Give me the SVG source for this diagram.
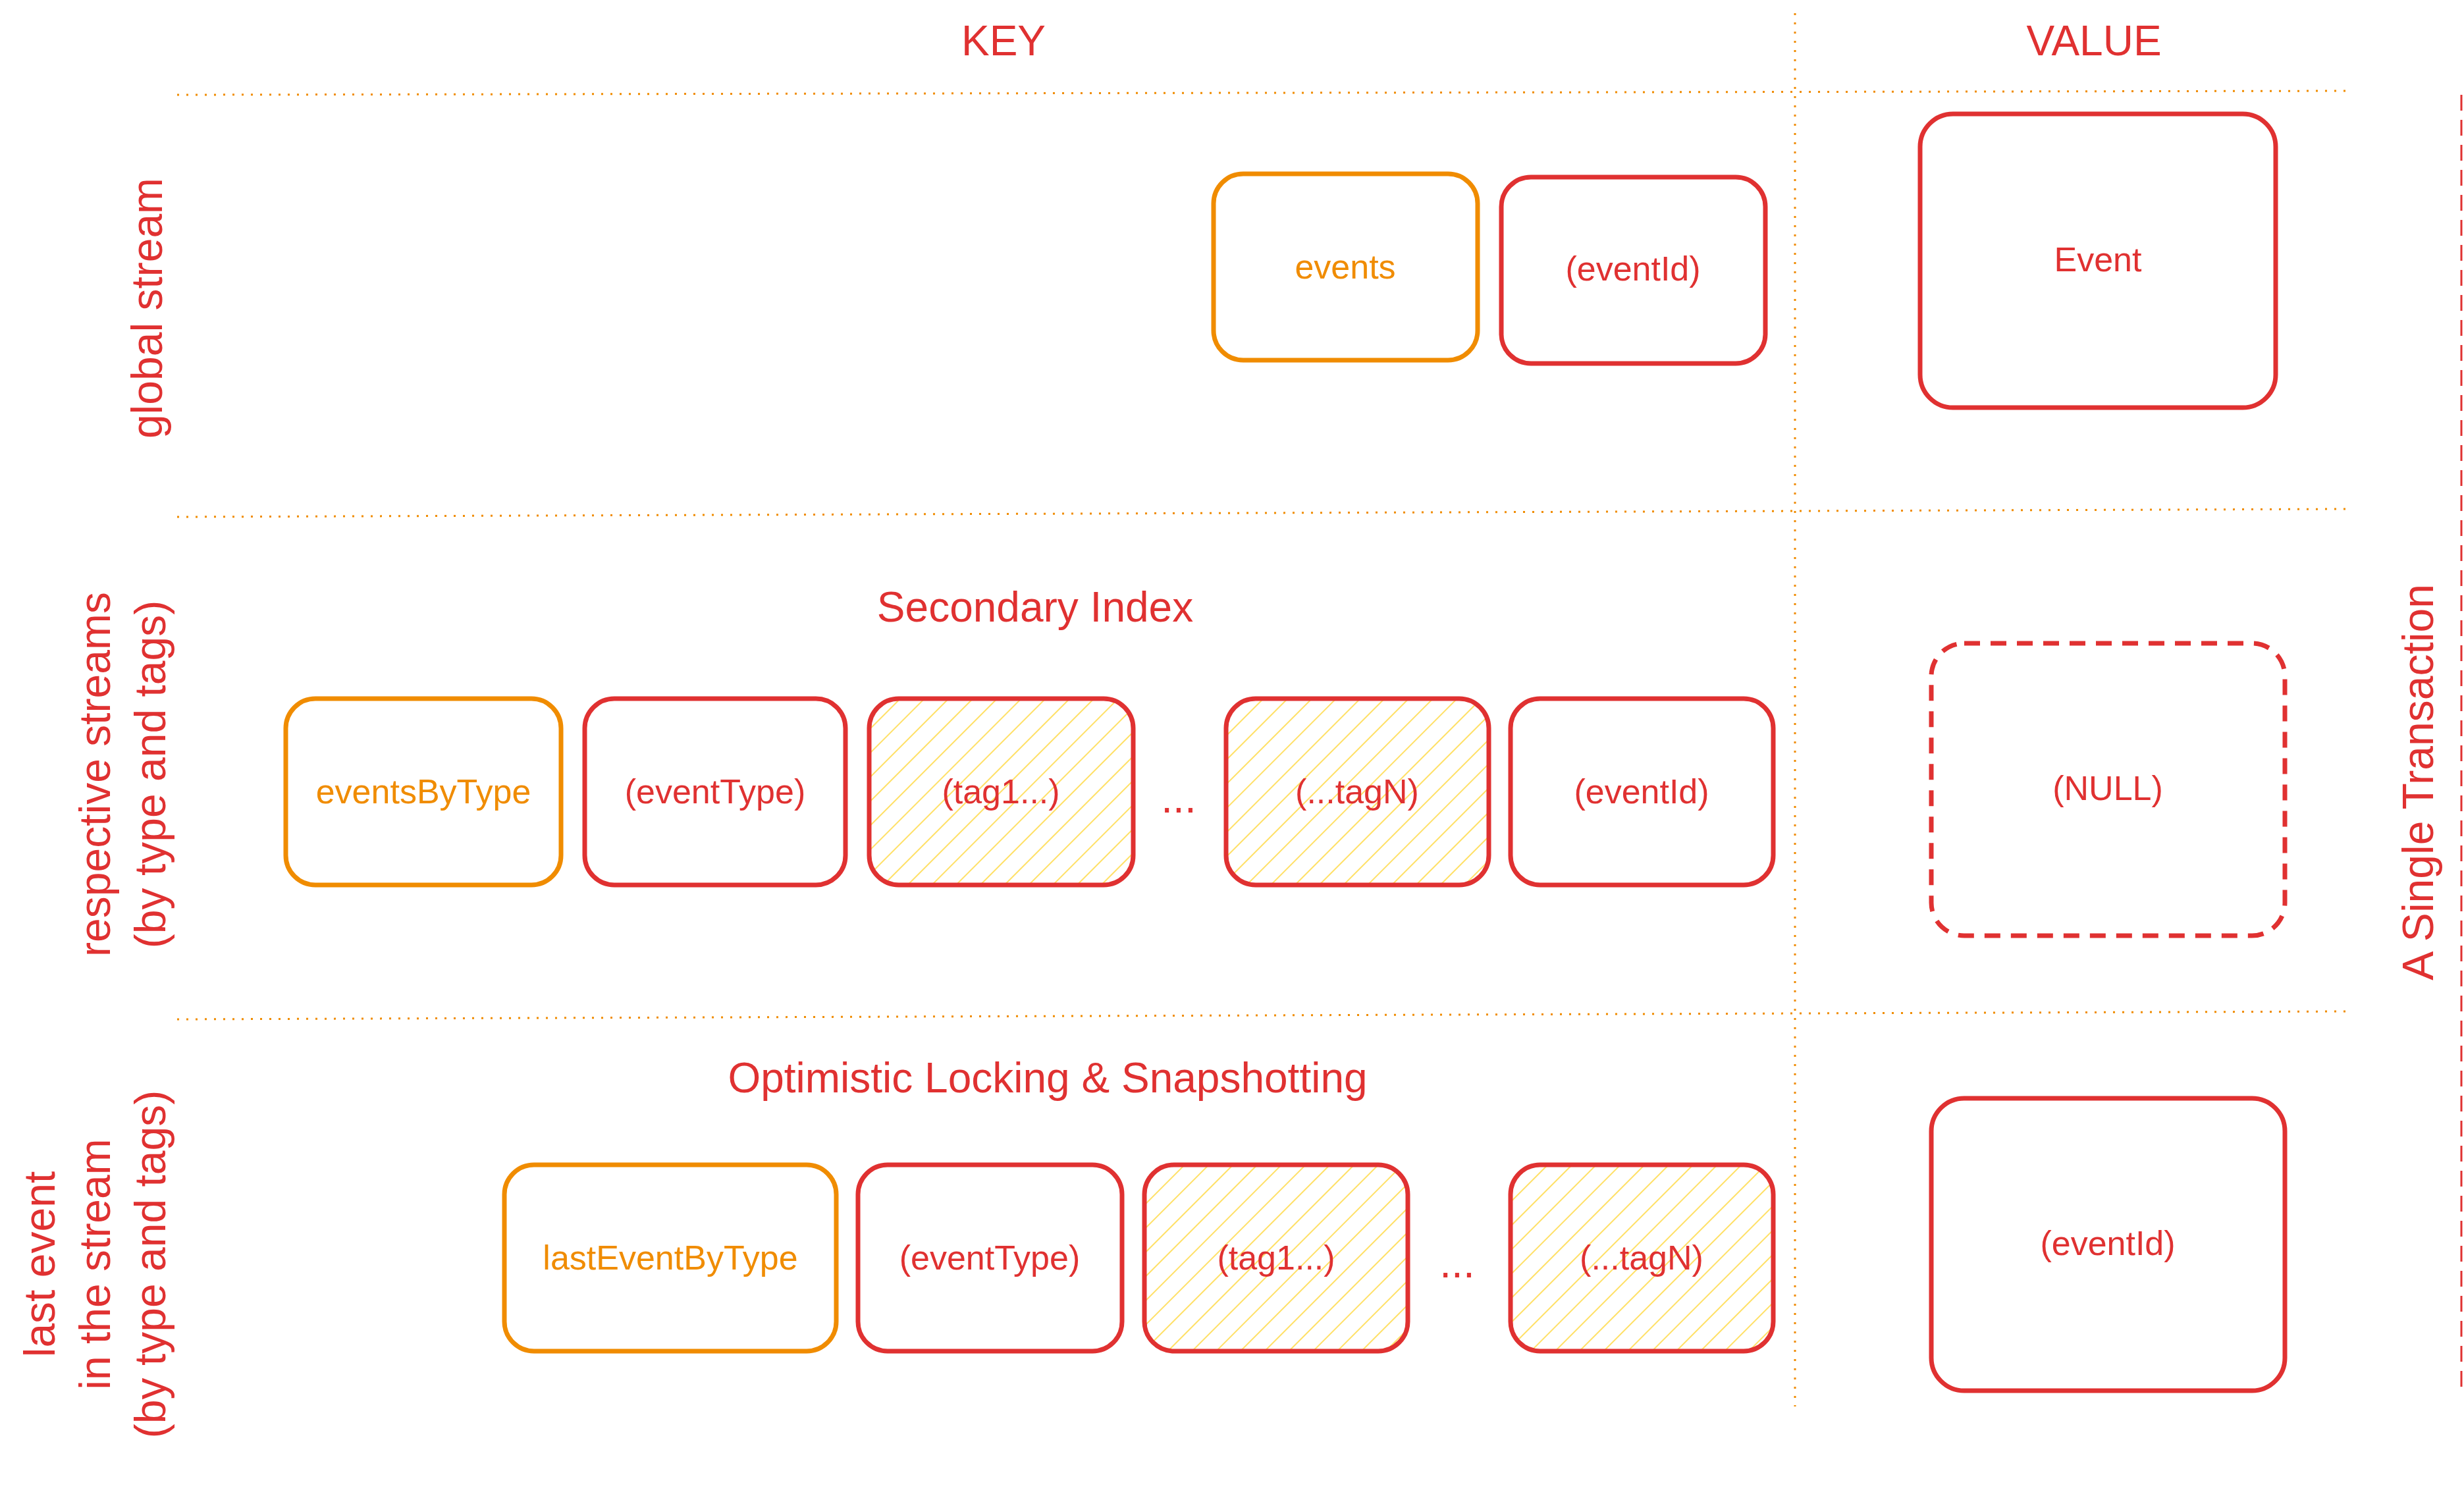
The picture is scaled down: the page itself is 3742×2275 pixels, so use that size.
<svg xmlns="http://www.w3.org/2000/svg" width="3742" height="2275" viewBox="0 0 3742 2275">
<style>
text{font-family:"Liberation Sans",Arial,sans-serif;text-anchor:middle;dominant-baseline:central}
.r{fill:#e03131}.o{fill:#f08c00}
.bx{fill:none;stroke:#e03131;stroke-width:7}
.ob{fill:none;stroke:#f08c00;stroke-width:7}
.hb{fill:url(#hatch);stroke:#e03131;stroke-width:7}
.t{font-size:52px}.h{font-size:64px}.l{font-size:66px}
.dot{stroke:#f08c00;stroke-width:3;stroke-dasharray:3 11;fill:none}
</style>
<defs>
<pattern id="hatch" patternUnits="userSpaceOnUse" width="26" height="26" patternTransform="rotate(45)">
<rect width="26" height="26" fill="#fff"/>
<line x1="0" y1="0" x2="0" y2="26" stroke="#ffe066" stroke-width="4"/>
</pattern>
</defs>
<rect width="3742" height="2275" fill="#fff"/>
<g id="grid">
<line class="dot" x1="2726" y1="20" x2="2726" y2="2136"/>
<line class="dot" x1="269" y1="144" x2="3564" y2="138"/>
<line class="dot" x1="269" y1="785" x2="3564" y2="773"/>
<line class="dot" x1="269" y1="1548" x2="3564" y2="1536"/>
<line x1="3738" y1="144" x2="3738" y2="2112" stroke="#e03131" stroke-width="3" stroke-dasharray="24 14"/>
</g>
<g id="labels">
<text class="r h" x="1524" y="62">KEY</text>
<text class="r h" x="3180" y="62">VALUE</text>
<text class="r l" transform="translate(3672,1188) rotate(-90)">A Single Transaction</text>
<text class="r l" transform="translate(223,468) rotate(-90)">global stream</text>
<text class="r l" transform="translate(144,1176) rotate(-90)">respective streams</text>
<text class="r l" transform="translate(228,1176) rotate(-90)">(by type and tags)</text>
<text class="r l" transform="translate(60,1920) rotate(-90)">last event</text>
<text class="r l" transform="translate(144,1920) rotate(-90)">in the stream</text>
<text class="r l" transform="translate(228,1920) rotate(-90)">(by type and tags)</text>
<text class="r h" x="1572" y="922">Secondary Index</text>
<text class="r h" x="1591" y="1637">Optimistic Locking &amp; Snapshotting</text>
<text class="r h" x="1790" y="1212">...</text>
<text class="r h" x="2213" y="1918">...</text>
</g>
<g id="events"><rect class="ob" x="1843" y="264" width="401" height="283" rx="45"/><text class="o t" x="2043" y="405">events</text></g>
<g id="eventId1"><rect class="bx" x="2280" y="269" width="401" height="283" rx="45"/><text class="r t" x="2480" y="408">(eventId)</text></g>
<g id="event"><rect class="bx" x="2916" y="173" width="540" height="446" rx="50"/><text class="r t" x="3186" y="394">Event</text></g>
<g id="eventsByType"><rect class="ob" x="434" y="1061" width="418" height="283" rx="45"/><text class="o t" x="643" y="1202">eventsByType</text></g>
<g id="eventType1"><rect class="bx" x="888" y="1061" width="396" height="283" rx="45"/><text class="r t" x="1086" y="1202">(eventType)</text></g>
<g id="tag1a"><rect class="hb" x="1320" y="1061" width="401" height="283" rx="45"/><text class="r t" x="1520" y="1202">(tag1...)</text></g>
<g id="tagNa"><rect class="hb" x="1862" y="1061" width="399" height="283" rx="45"/><text class="r t" x="2061" y="1202">(...tagN)</text></g>
<g id="eventId2"><rect class="bx" x="2294" y="1061" width="399" height="283" rx="45"/><text class="r t" x="2493" y="1202">(eventId)</text></g>
<g id="null"><rect class="bx" stroke-dasharray="24 16" x="2933" y="977" width="537" height="444" rx="50"/><text class="r t" x="3201" y="1197">(NULL)</text></g>
<g id="lastEventByType"><rect class="ob" x="766" y="1769" width="504" height="283" rx="45"/><text class="o t" x="1018" y="1910">lastEventByType</text></g>
<g id="eventType2"><rect class="bx" x="1303" y="1769" width="401" height="283" rx="45"/><text class="r t" x="1503" y="1910">(eventType)</text></g>
<g id="tag1b"><rect class="hb" x="1738" y="1769" width="400" height="283" rx="45"/><text class="r t" x="1938" y="1910">(tag1...)</text></g>
<g id="tagNb"><rect class="hb" x="2294" y="1769" width="399" height="283" rx="45"/><text class="r t" x="2493" y="1910">(...tagN)</text></g>
<g id="eventId3"><rect class="bx" x="2933" y="1668" width="537" height="444" rx="50"/><text class="r t" x="3201" y="1888">(eventId)</text></g>
<g id="connectors"/>
</svg>
